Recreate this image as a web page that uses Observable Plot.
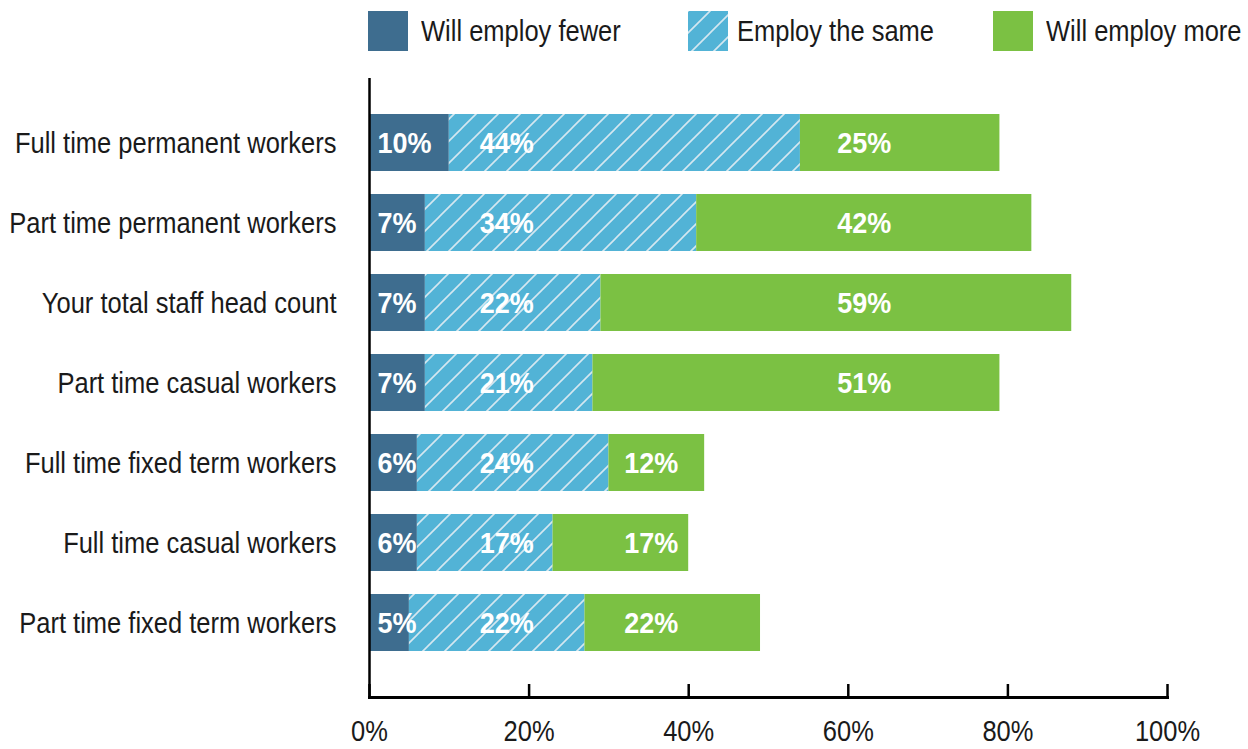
<!DOCTYPE html>
<html>
<head>
<meta charset="utf-8">
<script src="https://cdn.jsdelivr.net/npm/d3@7"></script>
<script src="https://cdn.jsdelivr.net/npm/@observablehq/plot@0.6"></script>
<style>
  html, body { margin: 0; padding: 0; background: #fff; }
  body { width: 1248px; height: 749px; overflow: hidden; font-family: "Liberation Sans", Arial, sans-serif; }
  #legend { position: relative; height: 62px; }
  .sw { position: absolute; top: 11px; width: 40px; height: 40px; }
  .lt { position: absolute; top: 11px; height: 40px; line-height: 40px; font-size: 30px; color: #1a1a1a; white-space: nowrap; transform: scaleX(0.85); transform-origin: left center; }
  #chart svg { display: block; }
</style>
</head>
<body>
<div id="legend"></div>
<div id="chart"></div>
<script>
const categories = [
  "Full time permanent workers",
  "Part time permanent workers",
  "Your total staff head count",
  "Part time casual workers",
  "Full time fixed term workers",
  "Full time casual workers",
  "Part time fixed term workers"
];
const fewer = [10, 7, 7, 7, 6, 6, 5];
const same  = [44, 34, 22, 21, 24, 17, 22];
const more  = [25, 42, 59, 51, 12, 17, 22];
const seriesNames = ["Will employ fewer", "Employ the same", "Will employ more"];
const xTicks = [0, 20, 40, 60, 80, 100];

const COLORS = ["#3e6d8f", "#52b3d6", "#7bc143"];
const FILLS = [COLORS[0], "url(#hatch)", COLORS[2]];

// Tidy rows
const rows = [];
categories.forEach((c, j) => {
  const vals = [fewer[j], same[j], more[j]];
  let x0 = 0;
  vals.forEach((v, i) => {
    rows.push({cat: c, series: i, value: v, x1: x0, x2: x0 + v, total: fewer[j] + same[j] + more[j]});
    x0 += v;
  });
});

// label placement
function labelX(d) {
  if (d.series === 0) return 1;
  if (d.series === 1) return 17.2;
  return d.total > 70 ? 62 : 35.3;
}

const FONT = '"Liberation Sans", Arial, sans-serif';
const labelOpts = {x: labelX, y: "cat", text: d => d.value + "%", fill: "#fff", fontWeight: "bold", fontSize: 30, className: "barlabel"};

const svg = Plot.plot({
  width: 1248,
  height: 687,
  marginLeft: 369,
  marginRight: 81,
  marginTop: 16,
  marginBottom: 52,
  style: {fontFamily: FONT, background: "#fff"},
  x: {domain: [0, 100], ticks: xTicks},
  y: {domain: categories, paddingInner: 0.29, paddingOuter: 0.49, align: 0.444},
  marks: [
    Plot.barX(rows, {
      x1: "x1", x2: "x2", y: "cat",
      fill: d => FILLS[d.series]
    }),
    Plot.text(rows.filter(d => d.series === 0), {...labelOpts, textAnchor: "start"}),
    Plot.text(rows.filter(d => d.series !== 0), {...labelOpts, textAnchor: "middle"}),
    Plot.ruleX([0], {stroke: "#000", strokeWidth: 2.5}),
    Plot.frame({anchor: "bottom", stroke: "#000", strokeWidth: 3}),
    Plot.axisX({ticks: xTicks, tickSize: -13, tickFormat: () => "", stroke: "#000", strokeWidth: 2.5, label: null}),
    Plot.axisX({ticks: xTicks, tickSize: 0, tickPadding: 22, tickFormat: d => d + "%", fontSize: 30, fill: "#1a1a1a", label: null}),
    Plot.axisY({tickSize: 0, tickPadding: 33, fontSize: 30, fill: "#1a1a1a", label: null})
  ]
});

// hatch pattern
const defs = d3.select(svg).insert("defs", ":first-child");
const pat = defs.append("pattern")
  .attr("id", "hatch")
  .attr("patternUnits", "userSpaceOnUse")
  .attr("width", 22).attr("height", 22);
pat.append("rect").attr("width", 22).attr("height", 22).attr("fill", COLORS[1]);
pat.append("path")
  .attr("d", "M-2,24 L24,-2 M-13,13 L13,-13 M9,35 L35,9")
  .attr("stroke", "rgba(235,240,245,0.85)")
  .attr("stroke-width", 1.6);

document.getElementById("chart").appendChild(svg);

// Legend (HTML, above the SVG)
const legend = document.getElementById("legend");
const legPos = [[368, 421], [688, 737], [993, 1046]];
seriesNames.forEach((name, i) => {
  let sw;
  if (i === 1) {
    sw = document.createElementNS("http://www.w3.org/2000/svg", "svg");
    sw.setAttribute("width", 40); sw.setAttribute("height", 40);
    const r = document.createElementNS("http://www.w3.org/2000/svg", "rect");
    r.setAttribute("width", 40); r.setAttribute("height", 40); r.setAttribute("fill", "url(#hatch)");
    sw.appendChild(r);
  } else {
    sw = document.createElement("div");
    sw.style.background = COLORS[i];
  }
  sw.classList.add("sw");
  sw.style.left = legPos[i][0] + "px";
  legend.appendChild(sw);
  const t = document.createElement("div");
  t.className = "lt";
  t.style.left = legPos[i][1] + "px";
  t.textContent = name;
  legend.appendChild(t);
});

// Condense text horizontally around its anchor point
svg.querySelectorAll("text").forEach(text => {
  if (!text.textContent) return;
  const bold = text.closest(".barlabel") !== null;
  const s = bold ? 0.9 : 0.85;
  const r = text.getBoundingClientRect();
  const anchor = getComputedStyle(text).textAnchor;
  const axs = anchor === "end" ? r.right : anchor === "middle" ? r.left + r.width / 2 : r.left;
  const m = text.parentNode.getScreenCTM();
  const ax = (axs - m.e) / m.a;
  const g = document.createElementNS("http://www.w3.org/2000/svg", "g");
  g.setAttribute("transform", `translate(${ax},0) scale(${s},1) translate(${-ax},0)`);
  text.parentNode.insertBefore(g, text);
  g.appendChild(text);
});
</script>
</body>
</html>
